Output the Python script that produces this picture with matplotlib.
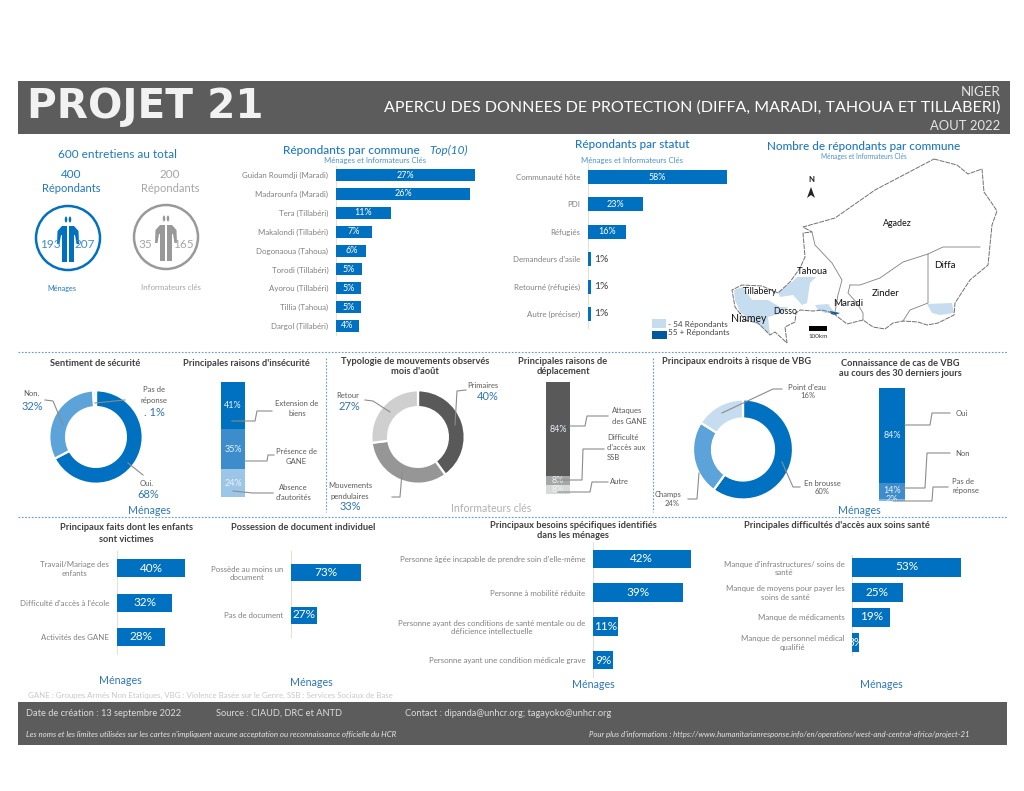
import matplotlib
matplotlib.use("Agg")
import matplotlib.pyplot as plt
from matplotlib.patches import Rectangle, Polygon, Circle, Ellipse

plt.rcParams["font.family"] = ["Lato", "DejaVu Sans"]

# =====================================
# DATA
# =====================================

commune_names = ["Guidan Roumdji (Maradi)", "Madarounfa (Maradi)", "Tera (Tillabéri)",
                 "Makalondi (Tillabéri)", "Dogonaoua (Tahoua)", "Torodi (Tillabéri)",
                 "Ayorou (Tillabéri)", "Tillia (Tahoua)", "Dargol (Tillabéri)"]
commune_vals = [27, 26.1, 10.6, 6.9, 5.9, 5.0, 4.9, 4.9, 4.4]

statut_names = ["Communauté hôte", "PDI", "Réfugiés", "Demandeurs d'asile",
                "Retourné (réfugiés)", "Autre (préciser)"]
statut_vals = [58, 22.9, 16, 1.2, 1.2, 1.2]

enfants_names = ["Travail/Mariage des\nenfants", "Difficulté d'accès à l'école", "Activités des GANE"]
enfants_vals = [40, 32.4, 28.3]

document_names = ["Possède au moins un\ndocument", "Pas de document"]
document_vals = [73, 27]

besoins_names = ["Personne âgée incapable de prendre soin d'elle-même",
                 "Personne à mobilité réduite",
                 "Personne ayant des conditions de santé mentale ou de\ndéficience intellectuelle",
                 "Personne ayant une condition médicale grave"]
besoins_vals = [42, 38.7, 10.8, 8.6]

sante_names = ["Manque d'infrastructures/ soins de\nsanté", "Manque de moyens pour payer les\nsoins de santé",
               "Manque de médicaments", "Manque de personnel médical\nqualifié"]
sante_vals = [53, 24.7, 18.6, 3.2]

securite_vals = [68, 32, 1]
typologie_vals = [40, 33, 27]
endroits_vals = [60, 24, 16]

insecurite_vals = [41, 35, 24]
deplacement_vals = [84, 8, 8]
connaissance_vals = [84, 14, 2]

# map shapes, in picture pixels
niger_outline = [(934, 159), (957, 165), (968, 174), (982, 169), (984, 192), (991, 202), (997, 211),
                 (992, 225), (988, 265), (970, 280), (955, 303), (954, 315), (938, 323), (927, 325),
                 (918, 322), (903, 321), (893, 323), (885, 329), (873, 327), (863, 320), (847, 324),
                 (838, 317), (833, 313), (822, 310), (813, 311), (800, 310), (796, 313), (795, 322),
                 (785, 327), (787, 343), (775, 332), (770, 335), (758, 323), (745, 320), (735, 307),
                 (732, 290), (742, 285), (762, 286), (778, 293), (790, 282), (800, 268), (805, 257),
                 (803, 233), (812, 232), (803, 227), (835, 218), (875, 190)]
map_borders = [
    [(812, 232), (815, 245), (832, 263), (842, 280), (838, 295), (835, 312)],
    [(850, 285), (860, 285), (880, 278), (903, 262), (928, 254), (943, 247), (980, 247)],
    [(850, 285), (848, 293), (857, 303), (863, 313), (863, 320)],
    [(928, 254), (928, 303), (910, 310), (903, 321)],
]
light_zones = [
    [(797, 277), (816, 277), (810, 283), (807, 303), (802, 305), (793, 295), (780, 297), (778, 292), (792, 282)],
    [(734, 290), (743, 287), (752, 300), (768, 300), (780, 307), (788, 307), (782, 313), (768, 317),
     (770, 335), (762, 327), (750, 320), (740, 312), (735, 300)],
    [(815, 305), (828, 304), (835, 313), (825, 313), (818, 310)],
    [(927, 304), (952, 303), (954, 313), (940, 315), (932, 313)],
]
dark_zone = [(830, 311), (840, 313), (835, 315), (831, 314)]

# =====================================
# COLOURS
# =====================================

BLUE = "#0070c0"
MID_BLUE = "#3d8ccc"
SOFT_BLUE = "#5ba3d9"
PALE_BLUE = "#c6dcef"
TITLE_BLUE = "#1f78c1"
GREY_BAND = "#5c5c5c"
LABEL_GREY = "#808080"
LEADER = "#8c8c8c"
DARK_TEXT = "#3f3f3f"

W, H = 1024, 791

fig = plt.figure(figsize=(W / 100, H / 100), dpi=100)


def ax_px(x0, y0, x1, y1):
    # axes box given in picture pixels, y going down
    ax = fig.add_axes([x0 / W, 1 - y1 / H, (x1 - x0) / W, (y1 - y0) / H])
    ax.patch.set_alpha(0)
    return ax


over = ax_px(0, 0, W, H)
over.set_xlim(0, W)
over.set_ylim(H, 0)
over.axis("off")
over.set_zorder(10)


def txt(x, y, s, size=6, color=LABEL_GREY, ha="center", **kw):
    over.text(x, y, s, fontsize=size, color=color, ha=ha, va="center", **kw)


def leader(*pts):
    over.plot([p[0] for p in pts], [p[1] for p in pts], color=LEADER, lw=0.8)


def hbars(x0, px_per_pct, y_first, y_last, names, vals, bar_px, size, label_size, outside=0):
    # horizontal bar panel; outside = value below which the label sits beside the bar
    n = len(vals)
    step = (y_last - y_first) / (n - 1)
    width = 100 * px_per_pct
    ax = ax_px(x0, y_first - step / 2, x0 + width, y_last + step / 2)
    ax.set_xlim(0, 100)
    ax.set_ylim(n - 0.5, -0.5)
    bars = ax.barh(range(n), vals, height=bar_px / step, color=BLUE, zorder=2)
    for i, (bar, v) in enumerate(zip(bars, vals)):
        if v < outside:
            ax.text(v + 3 / px_per_pct, i, f"{v:.0f}%", fontsize=7.5, color=DARK_TEXT, va="center")
        else:
            t = ax.text(v / 2, i, f"{v:.0f}%", fontsize=label_size, color="white", ha="center",
                        va="center", zorder=3)
            t.set_clip_path(bar)
    ax.set_yticks(range(n), names, fontsize=size, color=LABEL_GREY, multialignment="center")
    ax.tick_params(axis="y", length=0, pad=5.5)
    ax.set_xticks([])
    for side in ["top", "right", "bottom"]:
        ax.spines[side].set_visible(False)
    ax.spines["left"].set_color("#e6e0da")
    ax.spines["left"].set_zorder(1)
    return ax


def donut(cx, cy, r, vals, colors, ring):
    ax = ax_px(cx - r * 1.02, cy - r * 1.02, cx + r * 1.02, cy + r * 1.02)
    ax.pie(vals, colors=colors, startangle=90, counterclock=False, radius=1,
           wedgeprops=dict(width=ring, edgecolor="white", linewidth=1.6))
    ax.set_xlim(-1.02, 1.02)
    ax.set_ylim(-1.02, 1.02)


def stacked(x0, x1, y0, y1, vals, colors, size=6.5):
    ax = ax_px(x0, y0, x1, y1)
    ax.set_xlim(0, 1)
    ax.set_ylim(sum(vals), 0)
    ax.axis("off")
    base = 0
    for v, c in zip(vals, colors):
        bar = ax.bar(0.5, v, width=1, bottom=base, color=c, edgecolor="none")[0]
        t = ax.text(0.5, base + v / 2, f"{v}%", color="#eaf2f8", fontsize=size, ha="center", va="center")
        t.set_clip_path(bar)
        base += v


# =====================================
# HEADER / FOOTER
# =====================================

over.add_patch(Rectangle((18, 81), 992, 53, color=GREY_BAND, lw=0))
over.add_patch(Rectangle((18, 702), 989, 43, color=GREY_BAND, lw=0))
txt(27, 107, "PROJET 21", 29.2, "#f2f2f2", ha="left", weight="bold", family="DejaVu Sans")
txt(1000, 92, "NIGER", 9.6, "#e6e6e6", ha="right")
txt(1000, 108, "APERCU DES DONNEES DE PROTECTION (DIFFA, MARADI, TAHOUA ET TILLABERI)", 11.55, "white", ha="right")
txt(1000, 126, "AOUT 2022", 9.4, "#e6e6e6", ha="right")

txt(26, 713, "Date de création : 13 septembre 2022", 6.65, "#dcdcdc", ha="left")
txt(216, 713, "Source : CIAUD, DRC et ANTD", 6.65, "#dcdcdc", ha="left")
txt(405, 713, "Contact : dipanda@unhcr.org; tagayoko@unhcr.org", 6.65, "#dcdcdc", ha="left")
txt(26, 734, "Les noms et les limites utilisées sur les cartes n'impliquent aucune acceptation ou reconnaissance officielle du HCR",
    5.65, "#e6e6e6", ha="left", style="italic")
txt(589, 734, "Pour plus d'informations : https://www.humanitarianresponse.info/en/operations/west-and-central-africa/project-21",
    5.6, "#e6e6e6", ha="left", style="italic")
txt(28, 695, "GANE : Groupes Armés Non Etatiques, VBG : Violence Basée sur le Genre, SSB : Services Sociaux de Base",
    5.65, "#c8c8c8", ha="left")

# section separators
for y in [352, 517]:
    over.plot([18, 1008], [y, y], color="#5b9bd5", lw=0.8, ls=(0, (1.5, 1.5)))
for x in [326, 653]:
    over.plot([x, x], [358, 512], color="#5b9bd5", lw=0.8, ls=(0, (1.5, 1.5)))

# =====================================
# LEFT COUNTERS
# =====================================

txt(118, 155, "600 entretiens au total", 8.5, TITLE_BLUE)
txt(71, 174, "400", 8.5, TITLE_BLUE)
txt(71, 188, "Répondants", 8, TITLE_BLUE)
txt(170, 174, "200", 8.5, "#a6a6a6")
txt(170, 188, "Répondants", 8, "#a6a6a6")
txt(62, 288, "Ménages", 5.2, TITLE_BLUE)
txt(171, 287, "Informateurs clés", 5.7, "#a6a6a6")


def person(cx, cy, color):
    over.add_patch(Circle((cx, cy), 32, fill=False, ec=color, lw=1.8))
    for sign in [-1, 1]:
        over.add_patch(Ellipse((cx + sign * 2, cy - 18.5), 2.5, 6, color=color, lw=0))
        body = [(1, -12), (6, -12), (10.5, -7), (11, 6), (8.5, 6), (7, -3), (6, -3), (6, 24), (1, 24)]
        over.add_patch(Polygon([(cx + sign * px, cy + py) for px, py in body], color=color, lw=0))


person(68, 238, BLUE)
person(166, 237, "#999999")
txt(50, 245, "193", 8.5, MID_BLUE)
txt(85, 245, "207", 8.5, MID_BLUE)
txt(145, 245, "35", 8.5, "#a6a6a6")
txt(183, 245, "165", 8.5, "#a6a6a6")

# =====================================
# TOP BAR PANELS
# =====================================

txt(351, 150, "Répondants par commune", 8.55, TITLE_BLUE, weight="medium")
txt(449, 150, "Top(10)", 8.5, TITLE_BLUE, style="italic")
txt(375, 161, "Ménages et Informateurs Clés", 5.6, "#4a90d0")
hbars(336, 5.15, 175, 326, commune_names, commune_vals, 12, 5.7, 6.5)

txt(632, 144, "Répondants par statut", 8.5, TITLE_BLUE, weight="medium")
txt(632, 160, "Ménages et Informateurs Clés", 5.6, "#4a90d0")
hbars(588, 2.4, 177, 314, statut_names, statut_vals, 14, 5.7, 6.5, outside=5)

# =====================================
# MAP
# =====================================

txt(864, 146, "Nombre de répondants par commune", 8.5, TITLE_BLUE, weight="medium")
txt(864, 157, "Ménages et Informateurs Clés", 4.7, "#4a90d0")
for zone in light_zones:
    over.add_patch(Polygon(zone, color=PALE_BLUE, lw=0))
over.add_patch(Polygon(dark_zone, color="#00589f", lw=0))
over.add_patch(Polygon(niger_outline, closed=True, fill=False, ec="#707070", lw=0.7, ls=(0, (5, 1))))
for line in map_borders:
    over.plot([p[0] for p in line], [p[1] for p in line], color="#808080", lw=0.6)

for x, y, name, size in [(897, 223, "Agadez", 6.4), (812, 272, "Tahoua", 6.8), (760, 291, "Tillabery", 6.6),
                         (749, 318, "Niamey", 7.6), (785, 312, "Dosso", 6.3), (848, 303, "Maradi", 7),
                         (886, 294, "Zinder", 7), (945, 266, "Diffa", 7)]:
    txt(x, y, name, size, "#111111")

txt(811, 179, "N", 5.5, "#222222", weight="bold")
over.add_patch(Polygon([(811, 187), (815, 198), (811, 195), (807, 198)], color="#222222", lw=0))
over.add_patch(Rectangle((809, 325.5), 18, 5, color="black", lw=0))
txt(818, 336, "100km", 4.5, "#333333")

over.add_patch(Rectangle((652, 319), 14, 9, color=PALE_BLUE, lw=0))
over.add_patch(Rectangle((652, 331), 15, 8, color="#00589f", lw=0))
txt(668, 324, "- 54 Répondants", 5.9, "#444444", ha="left")
txt(668, 333, "55 + Répondants", 5.9, "#444444", ha="left")

# =====================================
# MIDDLE ROW
# =====================================

TITLE = dict(size=6.65, color=DARK_TEXT, weight="bold")
txt(95, 363, "Sentiment de sécurité", **TITLE)
txt(246, 363, "Principales raisons d'insécurité", **TITLE)
txt(415, 361, "Typologie de mouvements observés", **TITLE)
txt(415, 372, "mois d'août", **TITLE)
txt(563, 362, "Principales raisons de", **TITLE)
txt(563, 372, "déplacement", **TITLE)
txt(737, 362, "Principaux endroits à risque de VBG", **TITLE)
txt(900, 363, "Connaissance de cas de VBG", **TITLE)
txt(900, 373, "au cours des 30 derniers jours", **TITLE)

PCT = dict(size=8, color="#2e75b6")
LAB = dict(size=5.5, color="#595959")

donut(96, 437, 46.7, securite_vals, [BLUE, SOFT_BLUE, "#c6dcef"], 0.36)
leader((45, 400), (53, 401), (63, 425))
leader((95, 403), (125, 400))
leader((128, 463), (143, 475))
txt(31, 394, "Non.", **LAB)
txt(32, 406, "32%", **PCT)
txt(154, 390, "Pas de", **LAB)
txt(154, 401, "réponse", **LAB)
txt(154, 412, ". 1%", **PCT)
txt(147, 483, "Oui.", **LAB)
txt(148, 494, "68%", **PCT)

stacked(221, 245, 382, 497, insecurite_vals, [BLUE, MID_BLUE, "#9cc6e8"])
leader((232, 421), (255, 421), (257, 411), (272, 411))
leader((245, 461), (267, 461), (268, 455), (274, 455))
leader((233, 491), (253, 493), (273, 493))
txt(297, 404, "Extension de", **LAB)
txt(297, 414, "biens", **LAB)
txt(296, 451, "Présence de", **LAB)
txt(296, 462, "GANE", **LAB)
txt(293, 488, "Absence", **LAB)
txt(293, 498, "d'autorités", **LAB)

donut(418, 437, 46.7, typologie_vals, ["#595959", "#969696", "#cfcfcf"], 0.36)
leader((365, 400), (373, 401), (390, 412))
leader((466, 390), (457, 391), (455, 425))
leader((392, 497), (400, 497), (402, 473))
txt(348, 395, "Retour", **LAB)
txt(349, 406, "27%", **PCT)
txt(483, 385, "Primaires", **LAB)
txt(488, 396, "40%", **PCT)
txt(350, 486, "Mouvements", **LAB)
txt(350, 496, "pendulaires", **LAB)
txt(350, 507, "33%", **PCT)

stacked(546, 570, 382, 494, deplacement_vals, ["#595959", "#a6a6a6", "#d9d9d9"])
leader((570, 426), (585, 426), (587, 416), (608, 416))
leader((558, 480), (582, 480), (583, 449), (604, 449))
leader((558, 492), (590, 492), (592, 482), (608, 482))
txt(612, 411, "Attaques", ha="left", **LAB)
txt(612, 422, "des GANE", ha="left", **LAB)
txt(607, 438, "Difficulté", ha="left", **LAB)
txt(607, 448, "d'accès aux", ha="left", **LAB)
txt(607, 458, "SSB", ha="left", **LAB)
txt(619, 481, "Autre", **LAB)

donut(743, 449.5, 50, endroits_vals, [BLUE, SOFT_BLUE, PALE_BLUE], 0.38)
leader((722, 413), (773, 389), (782, 389))
leader((782, 462), (793, 487), (800, 487))
leader((699, 473), (697, 499), (688, 499))
txt(807, 387, "Point d'eau", **LAB)
txt(808, 396, "16%", **LAB)
txt(822, 483, "En brousse", **LAB)
txt(822, 492, "60%", **LAB)
txt(668, 495, "Champs", **LAB)
txt(672, 504, "24%", **LAB)

stacked(879, 905, 388, 501, connaissance_vals, [BLUE, MID_BLUE, "#7fb8e6"])
leader((905, 425), (930, 425), (932, 413), (950, 413))
leader((902, 488), (925, 488), (927, 453), (950, 453))
leader((893, 501), (932, 501), (933, 487), (948, 487))
txt(962, 413, "Oui", **LAB)
txt(963, 453, "Non", **LAB)
txt(963, 481, "Pas de", **LAB)
txt(966, 491, "réponse", **LAB)

SRC = dict(size=7.7, color="#2e75b6")
txt(149, 511, "Ménages", **SRC)
txt(491, 509, "Informateurs clés", size=7.6, color="#b0b0b0")
txt(859, 510, "Ménages", **SRC)

# =====================================
# BOTTOM ROW
# =====================================

txt(126, 527, "Principaux faits dont les enfants", **TITLE)
txt(126, 539, "sont victimes", **TITLE)
hbars(117, 1.71, 568, 637, enfants_names, enfants_vals, 18, 5.65, 8.5)

txt(303, 528, "Possession de document individuel", **TITLE)
hbars(291, 0.963, 572, 615, document_names, document_vals, 17, 5.65, 8.5)

txt(573, 526, "Principaux besoins spécifiques identifiés", **TITLE)
txt(573, 536, "dans les ménages", **TITLE)
hbars(593, 2.326, 559, 660, besoins_names, besoins_vals, 18.5, 5.65, 8.5)

txt(837, 525, "Principales difficultés d'accès aux soins santé", **TITLE)
hbars(852, 2.057, 567, 642, sante_names, sante_vals, 19, 5.65, 8.5)

txt(120, 681, "Ménages", **SRC)
txt(311, 683, "Ménages", **SRC)
txt(593, 685, "Ménages", **SRC)
txt(881, 684, "Ménages", **SRC)

fig.savefig("out.png", dpi=100)
